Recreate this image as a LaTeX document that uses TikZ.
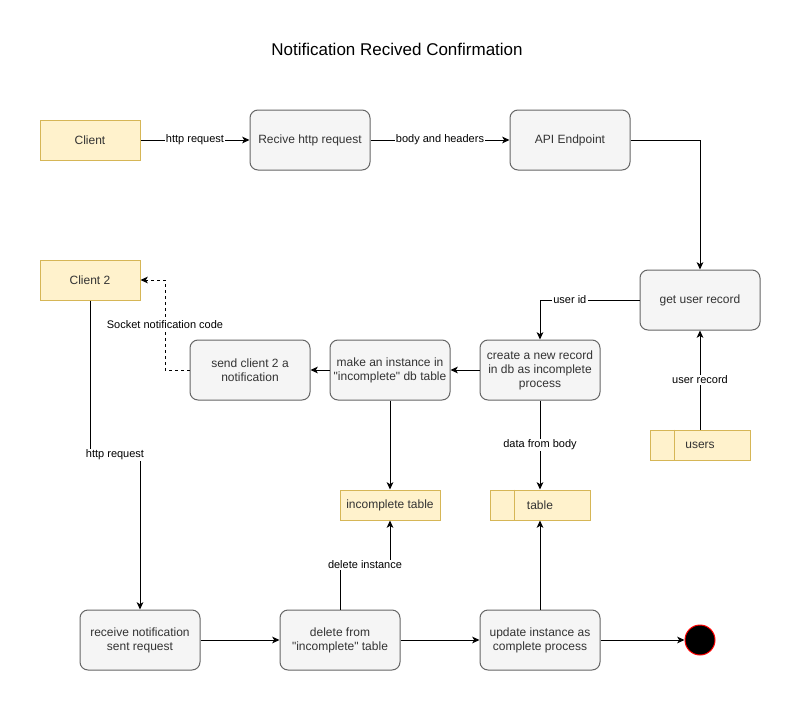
\documentclass[tikz,border=0pt]{standalone}
\usepackage{fontspec}
\setmainfont{Liberation Sans}
\usepackage{tikz}
\usetikzlibrary{arrows,arrows.meta,positioning}
\definecolor{noteFill}{HTML}{FFF2CC}
\definecolor{noteLine}{HTML}{D6B656}
\definecolor{procFill}{HTML}{F5F5F5}
\definecolor{procLine}{HTML}{666666}
\definecolor{procText}{HTML}{333333}
\tikzstyle{process}=[rectangle,rounded corners=6pt,draw=procLine,fill=procFill,
text=procText,minimum width=90pt,minimum height=45pt,align=center,
inner sep=0pt,font=\fontsize{9}{10.5}\selectfont]
\tikzstyle{client}=[rectangle,draw=noteLine,fill=noteFill,minimum width=75pt,
minimum height=30pt,inner sep=0pt,text=procText,font=\fontsize{9}{10.5}\selectfont]
\tikzstyle{datastore}=[rectangle,draw=noteLine,fill=noteFill,minimum width=75pt,
minimum height=22.5pt,inner sep=0pt,text=procText,font=\fontsize{9}{10.5}\selectfont]
\tikzstyle{lbl}=[fill=white,inner sep=1pt,font=\fontsize{8.25}{9}\selectfont]
\tikzstyle{final}=[circle,draw=red,fill=black,minimum size=22.5pt,inner sep=0pt]
\newcommand{\qq}{\textquotedbl}

\begin{document}
\begin{tikzpicture}[x=0.75pt,y=-0.75pt,>={Stealth[length=5.5pt,width=5pt,inset=1.5pt]},line width=0.75pt]
    \useasboundingbox (0,0) rectangle (801,711);
    % Title
    \node (title) at (397,49) {\fontsize{12.75}{15}\selectfont Notification Recived Confirmation};
    % Top row: incoming request
    \node (client) [client]  at (90,140)  {Client};
    \node (recv)   [process] at (310,140) {Recive http request};
    \node (api)    [process] at (570,140) {API Endpoint};
    % Middle row: records and notification
    \node (client2) [client]  at (90,280)  {Client 2};
    \node (getuser) [process] at (700,300) {get user record};
    \node (create)  [process] at (540,370) {create a new record\\in db as incomplete\\process};
    \node (mkinst)  [process] at (390,370) {make an instance in\\\qq incomplete\qq{} db table};
    \node (sendc2)  [process] at (250,370) {send client 2 a\\notification};
    % Data stores
    \node (users)   [datastore] at (700,445) {users};
    \node (inctbl)  [datastore] at (390,505) {incomplete table};
    \node (table)   [datastore] at (540,505) {table};
    \draw[noteLine] ([xshift=18.75pt]users.north west) -- ([xshift=18.75pt]users.south west);
    \draw[noteLine] ([xshift=18.75pt]table.north west) -- ([xshift=18.75pt]table.south west);
    % Bottom row: confirmation
    \node (rcvnote) [process] at (140,640) {receive notification\\sent request};
    \node (delinc)  [process] at (340,640) {delete from\\\qq incomplete\qq{} table};
    \node (update)  [process] at (540,640) {update instance as\\complete process};
    \node (done)    [final]   at (700,640) {};
    % Bends of the orthogonal connectors
    \coordinate (jog1) at (115,455);
    \coordinate (jog2) at (365,565);
    \coordinate (jog3) at (165,325);
    % The diagram elements are now connected through arrows:
    \path[->]
    (client) edge node[lbl] {http request} (recv)
    (recv)   edge node[lbl] {body and headers} (api)
    (users)  edge node[lbl] {user record} (getuser)
    (create) edge (mkinst)
    (mkinst) edge (sendc2)
    (mkinst) edge (inctbl)
    (create) edge node[lbl] {data from body} (table)
    (rcvnote) edge (delinc)
    (delinc)  edge (update)
    (update)  edge (done)
    (update)  edge (table)
    ;
    \draw[->] (api.east) -| (getuser.north);
    \draw[->] (getuser.west) -| node[lbl,pos=0.35] {user id} (create.north);
    \draw[->,dash pattern=on 2.25pt off 2.25pt] (sendc2.west) -| (jog3) node[lbl] {Socket notification code} |- (client2.east);
    \draw[->] (client2.south) |- (jog1) node[lbl] {http request} -| (rcvnote.north);
    \draw[->] (delinc.north) |- (jog2) node[lbl] {delete instance} -| (inctbl.south);
\end{tikzpicture}
\end{document}
